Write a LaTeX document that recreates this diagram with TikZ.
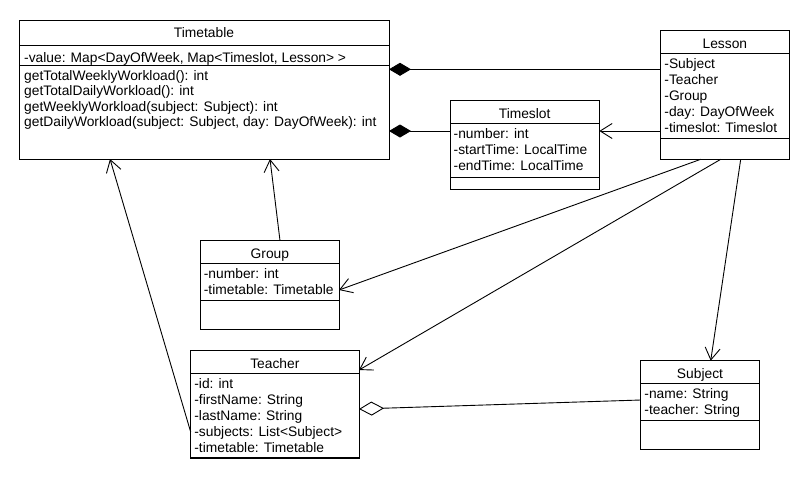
\documentclass[tikz,border=0pt]{standalone}
\usepackage{fontspec}
\setmainfont{Liberation Sans}
\usetikzlibrary{arrows.meta,calc}
\begin{document}
\begin{tikzpicture}[x=1pt,y=-1pt,
  every node/.style={font=\fontsize{13.8}{16}\selectfont},
  classbox/.style={draw, line width=1pt, rectangle, inner sep=0pt, outer sep=0pt, anchor=north west},
  divider/.style={line width=1pt},
  clstitle/.style={anchor=base, inner sep=0pt},
  mbr/.style={anchor=base west, inner sep=0pt},
  link/.style={line width=0.9pt},
  nav/.style={link, -{Straight Barb[length=12pt,width=15pt]}},
  comp/.style={link, {Diamond[length=22pt,width=13pt]}-},
  aggr/.style={link, {Diamond[open,length=25pt,width=14pt]}-},
]
\fill[white] (0,0) rectangle (810,480);

% ---------- Timetable ----------
\node[classbox, minimum width=370pt, minimum height=139pt] (tt) at (19,20) {};
\node[clstitle] (tt-name) at ($(tt.north)+(0,17.7)$) {Timetable};
\draw[divider] ($(tt.north west)+(0,25)$) -- ($(tt.north east)+(0,25)$);
\draw[divider] ($(tt.north west)+(0,45)$) -- ($(tt.north east)+(0,45)$);
\node[mbr] (tt-f1) at ($(tt.north west)+(5,42)$) {-value: Map<DayOfWeek, Map<Timeslot, Lesson> >};
\node[mbr] (tt-m1) at ($(tt.north west)+(5,60)$) {getTotalWeeklyWorkload(): int};
\node[mbr] (tt-m2) at ($(tt.north west)+(5,75.5)$) {getTotalDailyWorkload(): int};
\node[mbr] (tt-m3) at ($(tt.north west)+(5,91)$) {getWeeklyWorkload(subject: Subject): int};
\node[mbr] (tt-m4) at ($(tt.north west)+(5,106.5)$) {getDailyWorkload(subject: Subject, day: DayOfWeek): int};

% ---------- Lesson ----------
\node[classbox, minimum width=128.3pt, minimum height=128.6pt] (ls) at (660.7,30.7) {};
\node[clstitle] (ls-name) at ($(ls.north)+(0,17.7)$) {Lesson};
\draw[divider] ($(ls.north west)+(0,22.7)$) -- ($(ls.north east)+(0,22.7)$);
\draw[divider] ($(ls.north west)+(0,107.6)$) -- ($(ls.north east)+(0,107.6)$);
\node[mbr] (ls-f1) at ($(ls.north west)+(3.5,38)$) {-Subject};
\node[mbr] (ls-f2) at ($(ls.north west)+(3.5,54)$) {-Teacher};
\node[mbr] (ls-f3) at ($(ls.north west)+(3.5,70)$) {-Group};
\node[mbr] (ls-f4) at ($(ls.north west)+(3.5,86)$) {-day: DayOfWeek};
\node[mbr] (ls-f5) at ($(ls.north west)+(3.5,102)$) {-timeslot: Timeslot};

% ---------- Timeslot ----------
\node[classbox, minimum width=149.3pt, minimum height=88.6pt] (tsl) at (450,100.7) {};
\node[clstitle] (tsl-name) at ($(tsl.north)+(0,17.7)$) {Timeslot};
\draw[divider] ($(tsl.north west)+(0,22.7)$) -- ($(tsl.north east)+(0,22.7)$);
\draw[divider] ($(tsl.north west)+(0,76.6)$) -- ($(tsl.north east)+(0,76.6)$);
\node[mbr] (tsl-f1) at ($(tsl.north west)+(3.5,38)$) {-number: int};
\node[mbr] (tsl-f2) at ($(tsl.north west)+(3.5,54)$) {-startTime: LocalTime};
\node[mbr] (tsl-f3) at ($(tsl.north west)+(3.5,70)$) {-endTime: LocalTime};

% ---------- Group ----------
\node[classbox, minimum width=138.3pt, minimum height=88.3pt] (grp) at (200.7,240.7) {};
\node[clstitle] (grp-name) at ($(grp.north)+(0,17.7)$) {Group};
\draw[divider] ($(grp.north west)+(0,22.7)$) -- ($(grp.north east)+(0,22.7)$);
\draw[divider] ($(grp.north west)+(0,59.3)$) -- ($(grp.north east)+(0,59.3)$);
\node[mbr] (grp-f1) at ($(grp.north west)+(3,38)$) {-number: int};
\node[mbr] (grp-f2) at ($(grp.north west)+(3,54)$) {-timetable: Timetable};

% ---------- Teacher ----------
\node[classbox, minimum width=168.3pt, minimum height=108.3pt] (tch) at (190.7,350) {};
\node[clstitle] (tch-name) at ($(tch.north)+(0,18)$) {Teacher};
\draw[divider] ($(tch.north west)+(0,23)$) -- ($(tch.north east)+(0,23)$);
\draw[divider] ($(tch.south west)+(0,-1)$) -- ($(tch.south east)+(0,-1)$);
\node[mbr] (tch-f1) at ($(tch.north west)+(3.5,38.3)$) {-id: int};
\node[mbr] (tch-f2) at ($(tch.north west)+(3.5,54.3)$) {-firstName: String};
\node[mbr] (tch-f3) at ($(tch.north west)+(3.5,70.3)$) {-lastName: String};
\node[mbr] (tch-f4) at ($(tch.north west)+(3.5,86.3)$) {-subjects: List<Subject>};
\node[mbr] (tch-f5) at ($(tch.north west)+(3.5,102.3)$) {-timetable: Timetable};

% ---------- Subject ----------
\node[classbox, minimum width=118.6pt, minimum height=88.3pt] (sbj) at (640.7,360.7) {};
\node[clstitle] (sbj-name) at ($(sbj.north)+(0,17.7)$) {Subject};
\draw[divider] ($(sbj.north west)+(0,22.7)$) -- ($(sbj.north east)+(0,22.7)$);
\draw[divider] ($(sbj.north west)+(0,59.3)$) -- ($(sbj.north east)+(0,59.3)$);
\node[mbr] (sbj-f1) at ($(sbj.north west)+(3.5,37.8)$) {-name: String};
\node[mbr] (sbj-f2) at ($(sbj.north west)+(3.5,53.8)$) {-teacher: String};

% ---------- Relations ----------
% compositions into Timetable
\draw[comp] ($(tt.north east)+(0,49.3)$) -- ($(ls.north west)+(0,38.6)$);
\draw[comp] ($(tt.north east)+(0,111)$) -- ($(tsl.north west)+(0,30.3)$);
% navigable associations
\draw[nav] ($(ls.north west)+(0,100.3)$) -- ($(tsl.north east)+(0,30.3)$);
\draw[nav] ($(grp.north west)+(79.3,0)$) -- ($(tt.south west)+(251,0)$);
\draw[nav] ($(tch.south west)+(0,-26.3)$) -- ($(tt.south west)+(91,0)$);
\draw[nav] ($(ls.south west)+(40,0)$) -- ($(grp.north east)+(0,49.3)$);
\draw[nav] ($(ls.south west)+(60,0)$) -- ($(tch.north east)+(0,20)$);
\draw[nav] ($(ls.south west)+(80,0)$) -- ($(sbj.north west)+(70,0)$);
% aggregation of subjects in Teacher
\draw[aggr] ($(tch.north east)+(0,59)$) -- ($(sbj.north west)+(0,39.3)$);
\end{tikzpicture}
\end{document}
